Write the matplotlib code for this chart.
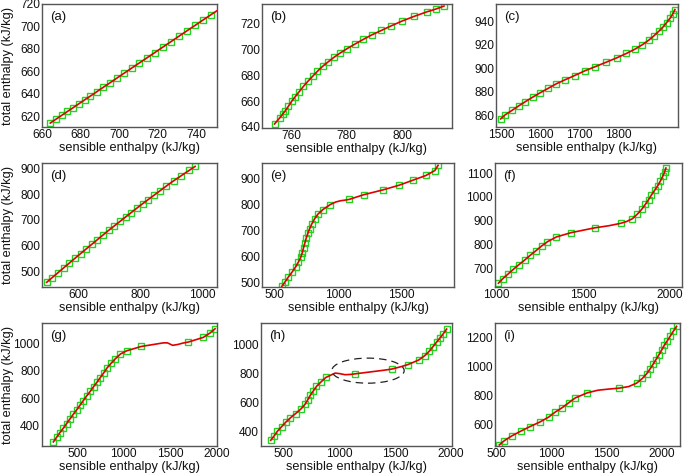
import matplotlib
matplotlib.use("Agg")
import matplotlib.pyplot as plt
from matplotlib.patches import Ellipse

plt.rcParams['font.family'] = ['Liberation Sans', 'DejaVu Sans']

# ---------------- data ----------------
# (a)
a_x = [664.3, 667.4, 670.2, 673.2, 676.1, 679.2, 682.2, 685.1, 688.4, 691.9, 695.4, 699.0,
       702.8, 706.6, 710.6, 714.6, 718.6, 722.8, 727.0, 731.2, 735.6, 739.7, 743.7, 747.8]
a_y = [614.0, 617.6, 620.8, 624.3, 627.6, 631.2, 634.7, 638.0, 641.8, 645.9, 649.9, 654.1,
       658.5, 662.9, 667.5, 672.1, 676.7, 681.6, 686.4, 691.3, 696.4, 701.1, 705.7, 710.4]
a_lx = [751.0]
a_ly = [714.0]

# (b)
b_x = [754.1, 755.9, 757.0, 758.0, 759.1, 760.4, 761.6, 763.0, 764.5, 766.1, 767.8, 769.5, 771.4,
       773.3, 775.5, 777.8, 780.3, 783.2, 786.1, 789.2, 792.6, 796.2, 800.1, 804.3, 808.9, 812.2, 815.1]
b_y = [642.3, 646.8, 649.8, 652.5, 656.0, 660.2, 663.5, 667.3, 671.3, 675.2, 679.1, 682.9, 686.8,
       690.1, 693.8, 697.2, 700.6, 704.2, 707.7, 711.2, 714.6, 718.2, 721.9, 725.4, 728.9, 731.1, 733.4]
b_lx = []
b_ly = []

# (c)
c_x = [1498, 1509, 1527, 1544, 1561, 1580, 1599, 1619, 1640, 1662, 1687, 1713, 1740,
       1768, 1795, 1820, 1842, 1861, 1877, 1891, 1903, 1914, 1923, 1932, 1939, 1944]
c_y = [856.9, 860.3, 864.2, 868.0, 871.6, 875.5, 879.2, 882.9, 886.8, 890.2, 893.9, 897.9, 901.5,
       905.3, 909.0, 912.8, 916.5, 920.3, 924.1, 928.0, 931.8, 935.5, 939.2, 943.0, 946.7, 950.2]
c_lx = []
c_ly = []

# (d)
d_x = [499.5, 517.6, 535.8, 554.0, 572.1, 590.3, 608.5, 626.6, 644.8, 663.0, 681.1, 699.3, 717.4,
       735.6, 753.8, 771.9, 790.1, 808.3, 826.4, 844.6, 864.0, 885.0, 908.5, 933.0, 958.0, 977.5]
d_y = [457.0, 475.6, 494.2, 512.9, 531.4, 550.1, 568.5, 586.6, 604.8, 623.0, 641.1, 659.3, 676.5,
       693.8, 711.1, 728.3, 745.6, 762.5, 778.8, 795.1, 812.6, 831.5, 851.9, 871.7, 892.0, 907.8]
d_lx = []
d_ly = []

# (e)
e_x = [557, 581, 607, 638, 665, 688, 707, 718, 728, 738, 748, 762, 775, 793, 815, 842, 880, 937,
       1086, 1200, 1355, 1482, 1588, 1690, 1760, 1786]
e_y = [487, 503, 522, 542, 561, 581, 600, 617, 636, 653, 671, 691, 708, 727, 747, 765, 782, 801,
       821, 839, 858, 876, 895, 913, 932, 952]
e_lx = [980, 1020, 1050]
e_ly = [811, 816, 818]

# (f)
f_x = [1010, 1035, 1065, 1096, 1129, 1162, 1194, 1227, 1260, 1294, 1346, 1431, 1567, 1717,
       1785, 1815, 1840, 1860, 1879, 1896, 1915, 1933, 1948, 1962, 1972, 1980]
f_y = [638, 657, 676, 696, 716, 735, 755, 774, 794, 812, 832, 850, 870, 889,
       908, 928, 948, 968, 988, 1008, 1028, 1047, 1067, 1087, 1104, 1121]
f_lx = [1650, 1750]
f_ly = [879, 896]

# (g)
g_x = [242, 278, 313, 349, 385, 421, 457, 493, 529, 565, 601, 640, 676, 712, 748, 784, 819, 862,
       909, 963, 1031, 1189, 1695, 1856, 1928, 1982]
g_y = [281, 315, 349, 381, 415, 449, 483, 515, 549, 583, 617, 651, 685, 717, 751, 785, 820, 854,
       888, 922, 946, 978, 1010, 1044, 1076, 1107]
g_lx = [1300, 1426, 1470, 1526, 1580, 1640]
g_ly = [990, 1004, 1004, 986, 992, 1003]

# (h)
h_x = [387, 419, 446, 485, 521, 563, 610, 658, 694, 718, 742, 769, 796, 838, 880, 1142,
       1471, 1611, 1710, 1764, 1806, 1838, 1871, 1901, 1931, 1961]
h_y = [340, 372, 402, 435, 465, 495, 525, 557, 589, 619, 652, 682, 712, 744, 774, 799,
       832, 862, 894, 924, 956, 986, 1018, 1046, 1076, 1108]
h_lx = [930, 963, 1000, 1053, 1100, 1307, 1400, 1550]
h_ly = [792, 804, 801, 793, 795, 815, 824, 848]

# (i)
i_x = [524, 570, 636, 718, 803, 894, 976, 1030, 1097, 1158, 1215, 1324, 1609, 1773, 1824, 1864,
       1894, 1921, 1948, 1976, 2000, 2024, 2052, 2079, 2106, 2136]
i_y = [457, 487, 519, 552, 584, 616, 651, 683, 715, 750, 782, 817, 849, 884, 916, 949,
       981, 1013, 1046, 1080, 1112, 1145, 1177, 1209, 1242, 1276]
i_lx = [1420, 1520, 1700]
i_ly = [835, 843, 860]

labels = ['(a)', '(b)', '(c)', '(d)', '(e)', '(f)', '(g)', '(h)', '(i)']
xlabel = 'sensible enthalpy (kJ/kg)'
ylabel = 'total enthalpy (kJ/kg)'

panels = [
    (a_x, a_y, a_lx, a_ly, (660, 751), (610.5, 720), [660, 680, 700, 720, 740], [620, 640, 660, 680, 700, 720]),
    (b_x, b_y, b_lx, b_ly, (749.6, 818), (639.2, 735), [760, 780, 800], [640, 660, 680, 700, 720]),
    (c_x, c_y, c_lx, c_ly, (1486, 1952), (850, 955), [1500, 1600, 1700, 1800], [860, 880, 900, 920, 940]),
    (d_x, d_y, d_lx, d_ly, (484.5, 1048), (438.8, 921), [600, 800, 1000], [500, 600, 700, 800, 900]),
    (e_x, e_y, e_lx, e_ly, (401, 1911), (484.4, 961), [500, 1000, 1500], [500, 600, 700, 800, 900]),
    (f_x, f_y, f_lx, f_ly, (990, 2073), (622, 1142), [1000, 1500, 2000], [700, 800, 900, 1000, 1100]),
    (g_x, g_y, g_lx, g_ly, (120, 2003), (251, 1149), [500, 1000, 1500, 2000], [400, 600, 800, 1000]),
    (h_x, h_y, h_lx, h_ly, (300, 2009), (300.8, 1150), [500, 1000, 1500, 2000], [400, 600, 800, 1000]),
    (i_x, i_y, i_lx, i_ly, (485, 2167), (450, 1299), [500, 1000, 1500, 2000], [600, 800, 1000, 1200]),
]

# axes boxes in pixels: (left, top, right, bottom)
W, H = 685, 473
boxes = [
    (42, 4, 217, 127), (262, 4, 452, 128), (496, 4, 678, 127),
    (42, 163, 217, 287), (262, 163, 454, 287), (495, 163, 682, 287),
    (42, 323, 217, 446), (261, 323, 452, 446), (495, 323, 680, 446),
]

fig = plt.figure(figsize=(W / 100, H / 100), dpi=100)
FS_TICK = 8.6
FS_LAB = 9.2
green = '#22d322'
red = '#e00000'

for k, (px, py, lx, ly, xl, yl, xt, yt) in enumerate(panels):
    l, t, r, b = boxes[k]
    ax = fig.add_axes([l / W, 1 - b / H, (r - l) / W, (b - t) / H])
    ax.plot(px, py, linestyle='none', marker='s', markersize=5, markerfacecolor='none',
            markeredgecolor=green, markeredgewidth=1.0, zorder=2)
    pts = sorted(zip(list(px) + list(lx), list(py) + list(ly)))
    ax.plot([p[0] for p in pts], [p[1] for p in pts], color=red, lw=1.2, zorder=3)
    ax.set_xlim(*xl)
    ax.set_ylim(*yl)
    ax.set_xticks(xt)
    ax.set_yticks(yt)
    ax.tick_params(length=0, pad=1.5, labelsize=FS_TICK, colors='#111111')
    for s in ax.spines.values():
        s.set_color('#555555')
        s.set_linewidth(1.0)
    ax.set_xlabel(xlabel, fontsize=FS_LAB, labelpad=1, color='#111111')
    if k % 3 == 0:
        ax.set_ylabel(ylabel, fontsize=FS_LAB, color='#111111')
        ax.yaxis.set_label_coords((14 - l) / (r - l), 0.5)
    ax.annotate(labels[k], xy=(0, 1), xycoords='axes fraction', xytext=(6, -5),
                textcoords='offset points', ha='left', va='top', fontsize=FS_LAB + 0.3, color='#111111')
    if k == 7:
        ax.add_patch(Ellipse((1257, 821), 648, 173, fill=False, edgecolor='#222222',
                             linestyle=(0, (6, 4)), lw=0.9, zorder=4))

fig.savefig('out.png', dpi=100)
